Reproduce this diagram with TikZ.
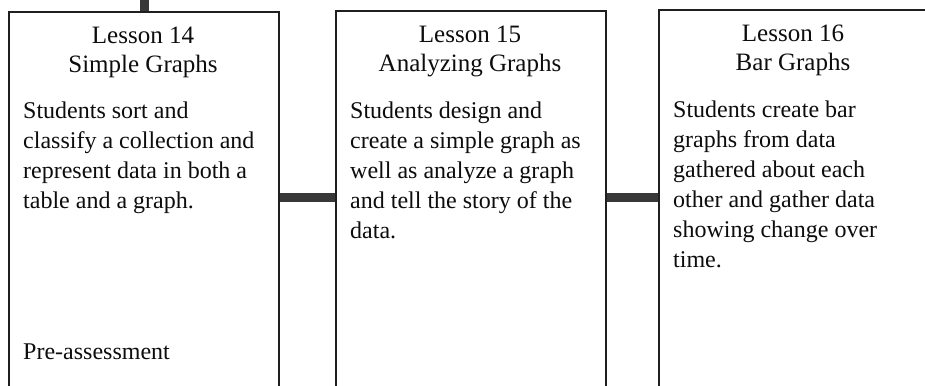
\documentclass[tikz,border=0pt]{standalone}
\usepackage{fontspec}
\setmainfont{Liberation Serif}
\begin{document}
\begin{tikzpicture}[x=1pt,y=1pt,
  box/.style={draw=black!88, line width=2.2pt, anchor=north west, minimum width=270pt, minimum height=430pt, inner sep=0pt},
  title/.style={anchor=north, align=center, inner sep=0pt, font=\fontsize{25}{29}\selectfont, text=black!95},
  body/.style={anchor=north west, align=left, inner sep=0pt, font=\fontsize{24}{30}\selectfont, text=black!95},
  bar/.style={line width=9pt, draw=black!78}]
\useasboundingbox (0,0) rectangle (925,-385);
\fill[white] (0,0) rectangle (925,-385);
\clip (0,0) rectangle (925,-385);
\node[box] (b1) at (8,-11) {};
\node[box] (b2) at (335,-10) {};
\node[box] (b3) at (658,-9) {};
\coordinate (top) at ([yshift=20pt]b1.north);
\draw[bar] (b1.north) -- (top);
\draw[bar] (b1.east |- 0,-197.5) -- (b2.west |- 0,-197.5);
\draw[bar] (b2.east |- 0,-197) -- (b3.west |- 0,-197);
\node[title] (t1) at (143,-23.3) {\strut Lesson 14\\Simple Graphs};
\node[title] (t2) at (470,-22.3) {\strut Lesson 15\\Analyzing Graphs};
\node[title] (t3) at (793,-21.3) {\strut Lesson 16\\Bar Graphs};
\node[body] (d1) at (23,-97.7) {\strut Students sort and\\classify a collection and\\represent data in both a\\table and a graph.};
\node[body] (p1) at (23,-338.7) {\strut Pre-assessment};
\node[body] (d2) at (350,-97.7) {\strut Students design and\\create a simple graph as\\well as analyze a graph\\and tell the story of the\\data.};
\node[body] (d3) at (673,-96.7) {\strut Students create bar\\graphs from data\\gathered about each\\other and gather data\\showing change over\\time.};
\end{tikzpicture}
\end{document}
